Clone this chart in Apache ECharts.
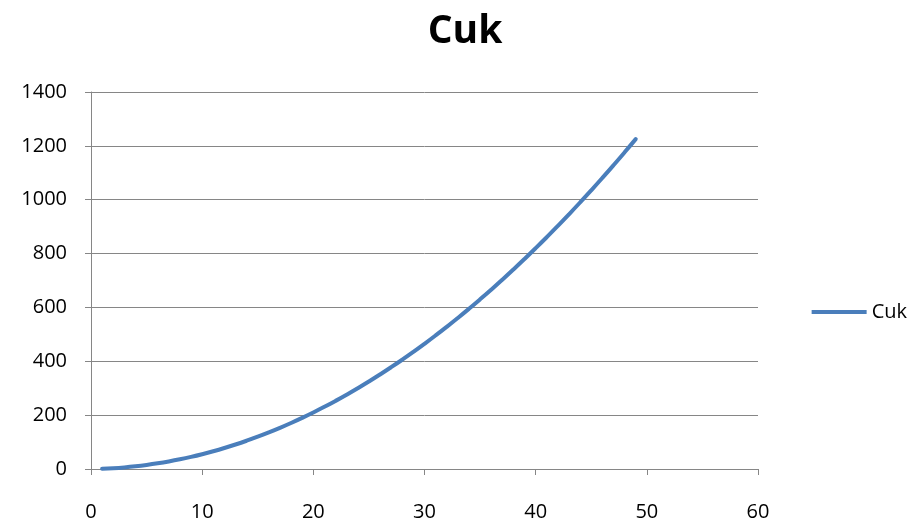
<!DOCTYPE html>
<html>
<head>
<meta charset="utf-8">
<script src="https://cdn.jsdelivr.net/npm/echarts@6/dist/echarts.min.js"></script>
<style>
  html, body { margin: 0; padding: 0; background: #fff; }
  #chart { width: 914px; height: 523px; }
</style>
</head>
<body>
<div id="chart"></div>
<script>
// values
let xValues = [1, 2, 3, 4, 5, 6, 7, 8, 9, 10, 11, 12, 13, 14, 15, 16, 17, 18, 19, 20,
    21, 22, 23, 24, 25, 26, 27, 28, 29, 30, 31, 32, 33, 34, 35, 36, 37, 38, 39, 40,
    41, 42, 43, 44, 45, 46, 47, 48, 49];
let cukValues = [1, 3, 6, 10, 15, 21, 28, 36, 45, 55, 66, 78, 91, 105, 120, 136, 153, 171, 190, 210,
    231, 253, 276, 300, 325, 351, 378, 406, 435, 465, 496, 528, 561, 595, 630, 666, 703, 741, 780, 820,
    861, 903, 946, 990, 1035, 1081, 1128, 1176, 1225];
let seriesName = 'Cuk';

function draw_chart() {
    let chart = echarts.init(document.getElementById("chart"), null, {
        renderer: 'canvas'
    });
    let points = xValues.map((x, i) => [x, cukValues[i]]);
    let labelFont = "'Open Sans', 'Liberation Sans', sans-serif";
    let option = {
        animation: false,
        title: {
            text: 'Cuk',
            left: 460,
            top: 7,
            textAlign: 'center',
            textStyle: {
                fontFamily: labelFont,
                fontWeight: 'bold',
                fontSize: 39,
                color: '#000'
            }
        },
        legend: {
            data: [seriesName],
            right: 2,
            top: 297,
            icon: 'rect',
            itemWidth: 55,
            itemHeight: 4,
            textStyle: {
                fontFamily: labelFont,
                fontSize: 20,
                color: '#000'
            }
        },
        grid: {
            left: 91,
            right: 156,
            top: 92,
            bottom: 54
        },
        xAxis: {
            type: 'value',
            min: 0,
            max: 60,
            interval: 10,
            axisLine: { lineStyle: { color: '#868686', width: 1 } },
            axisTick: { show: true, length: 6, lineStyle: { color: '#868686' } },
            splitLine: { show: false },
            axisLabel: {
                margin: 33,
                fontFamily: labelFont,
                fontSize: 20,
                color: '#000'
            }
        },
        yAxis: {
            type: 'value',
            min: 0,
            max: 1400,
            interval: 200,
            axisLine: { show: true, lineStyle: { color: '#868686', width: 1 } },
            axisTick: { show: true, length: 6, lineStyle: { color: '#868686' } },
            splitLine: { show: true, lineStyle: { color: '#868686', width: 1 } },
            axisLabel: {
                margin: 24,
                fontFamily: labelFont,
                fontSize: 20,
                color: '#000',
                formatter: v => String(v)
            }
        },
        series: [
            {
                name: seriesName,
                type: 'line',
                data: points,
                showSymbol: false,
                smooth: true,
                lineStyle: { color: '#4a7ebb', width: 4, cap: 'round' },
                itemStyle: { color: '#4a7ebb' }
            }
        ]
    };
    chart.setOption(option);
}

draw_chart();
</script>
</body>
</html>
